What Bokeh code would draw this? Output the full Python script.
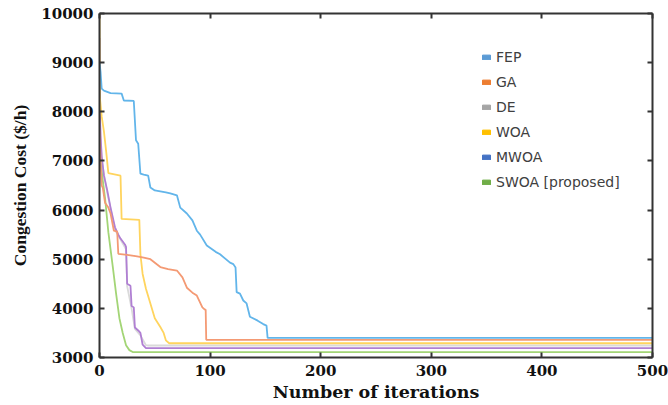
from bokeh.plotting import figure
from bokeh.models import LinearAxis, FixedTicker, Legend, LegendItem, Range1d
from bokeh.embed import file_html
from bokeh.resources import INLINE

# ---- data ----
fep_x = [0, 1, 2, 4, 10, 20, 22, 31, 33, 35, 37, 40, 44, 46, 50, 60, 64, 70, 73, 79, 84, 88, 91, 97, 105, 109, 118, 121, 123, 124, 127, 130, 133, 136, 143, 148, 151, 152, 500]
fep_y = [9000, 8800, 8470, 8430, 8380, 8370, 8230, 8220, 7420, 7350, 6740, 6720, 6700, 6460, 6400, 6360, 6340, 6300, 6050, 5930, 5790, 5580, 5500, 5280, 5150, 5100, 4930, 4900, 4830, 4330, 4300, 4160, 4100, 3830, 3750, 3680, 3650, 3400, 3400]

ga_x = [0, 1, 2, 3, 5, 8, 10, 13, 16, 17, 25, 34, 40, 46, 55, 62, 70, 75, 79, 84, 88, 93, 95, 96, 96.5, 500]
ga_y = [7620, 7000, 6500, 6450, 6150, 6050, 5930, 5580, 5560, 5110, 5090, 5060, 5030, 5000, 4840, 4800, 4770, 4630, 4420, 4320, 4260, 4020, 3980, 3970, 3360, 3360]

de_x = [0, 0.3, 2, 7, 14, 19, 24, 25, 29, 32, 37, 42, 44, 500]
de_y = [8600, 7800, 7000, 6350, 5600, 5400, 5200, 4450, 4000, 3580, 3450, 3250, 3244, 3244]

woa_x = [0, 0.3, 2, 4, 6, 8, 19, 20, 36, 37, 39, 42, 46, 50, 55, 58, 60, 63, 500]
woa_y = [10000, 8300, 7900, 7600, 7200, 6750, 6700, 5820, 5800, 5100, 4700, 4400, 4100, 3800, 3620, 3500, 3350, 3290, 3290]

mwoa_x = [0, 0.3, 1, 2, 4, 7, 10, 14, 17, 19, 23, 24, 25, 28, 29, 31, 32, 35, 37, 39, 42, 500]
mwoa_y = [9500, 8000, 7500, 7100, 6700, 6400, 6050, 5650, 5500, 5420, 5300, 5250, 4500, 4460, 4050, 4020, 3610, 3550, 3500, 3260, 3190, 3190]

swoa_x = [0, 0.3, 1, 3, 5, 8, 10, 12, 15, 18, 21, 24, 27, 30, 500]
swoa_y = [8500, 7700, 7000, 6600, 6250, 5550, 5200, 4850, 4300, 3800, 3500, 3250, 3150, 3110, 3110]

series_names = ["FEP", "GA", "DE", "WOA", "MWOA", "SWOA [proposed]"]
x_ticks = [0, 100, 200, 300, 400, 500]
y_ticks = [3000, 4000, 5000, 6000, 7000, 8000, 9000, 10000]

# ---- styles ----
line_colors = ["#62B5EA", "#F49A74", "#DADADA", "#FFD45E", "#B07FD3", "#A3D576"]
legend_colors = ["#5B9BD5", "#ED7D31", "#A5A5A5", "#FFC000", "#4472C4", "#70AD47"]

p = figure(width=668, height=405, output_backend="svg", toolbar_location=None,
           x_range=Range1d(0, 500), y_range=Range1d(3000, 10000),
           min_border_left=99, min_border_right=16, min_border_top=13, min_border_bottom=48,
           x_axis_location=None, y_axis_location=None)
p.grid.visible = False
p.outline_line_color = None
p.background_fill_color = "white"

data = [(de_x, de_y), (swoa_x, swoa_y), (mwoa_x, mwoa_y), (woa_x, woa_y), (ga_x, ga_y), (fep_x, fep_y)]
cols = [line_colors[2], line_colors[5], line_colors[4], line_colors[3], line_colors[1], line_colors[0]]
for (xs, ys), c in zip(data, cols):
    p.line(xs, ys, line_color=c, line_width=1.8)

def make_axis(loc, ticks, show_labels, label=None, label_font=None):
    ax = LinearAxis(ticker=FixedTicker(ticks=ticks))
    ax.axis_line_color = "#333333"
    ax.axis_line_width = 2
    ax.major_tick_line_color = "#333333"
    ax.major_tick_line_width = 2
    ax.major_tick_in = 5
    ax.major_tick_out = 0
    ax.minor_tick_line_color = None
    if show_labels:
        ax.major_label_text_font = "DejaVu Serif"
        ax.major_label_text_font_style = "bold"
        ax.major_label_text_font_size = "15px"
        ax.major_label_text_color = "#111111"
    else:
        ax.major_label_overrides = {t: "" for t in ticks}
        ax.major_label_standoff = 0
        ax.major_label_text_font_size = "1px"
    if label:
        ax.axis_label = label
        ax.axis_label_text_font = label_font
        ax.axis_label_text_font_style = "bold"
        ax.axis_label_text_color = "#111111"
    p.add_layout(ax, loc)
    return ax

xb = make_axis("below", x_ticks, True, "Number of iterations", "DejaVu Serif")
xb.axis_label_text_font_size = "17.5px"
xb.major_label_standoff = 7
xb.axis_label_standoff = 3
yl = make_axis("left", y_ticks, True, "Congestion Cost ($/h)", "Liberation Serif")
yl.axis_label_text_font_size = "17.5px"
yl.major_label_standoff = 6
yl.axis_label_standoff = 8
make_axis("above", x_ticks, False)
make_axis("right", y_ticks, False)

# legend (Excel-style square markers); renderers hold a single off-screen dummy quad
nan = float("nan")
items = []
for name, c in zip(series_names, legend_colors):
    r = p.quad(left=[nan], right=[nan], top=[nan], bottom=[nan], fill_color=c, line_color=c)
    items.append(LegendItem(label=name, renderers=[r]))
leg = Legend(items=items, location=(382, 166))
leg.border_line_color = None
leg.background_fill_alpha = 0
leg.glyph_width = 10
leg.glyph_height = 6
leg.label_height = 18
leg.spacing = 7
leg.padding = 0
leg.margin = 0
leg.label_standoff = 5
leg.label_text_font = "DejaVu Sans"
leg.label_text_font_size = "14px"
leg.label_text_color = "#404040"
p.add_layout(leg)

open("out.html", "w").write(file_html(p, INLINE))
